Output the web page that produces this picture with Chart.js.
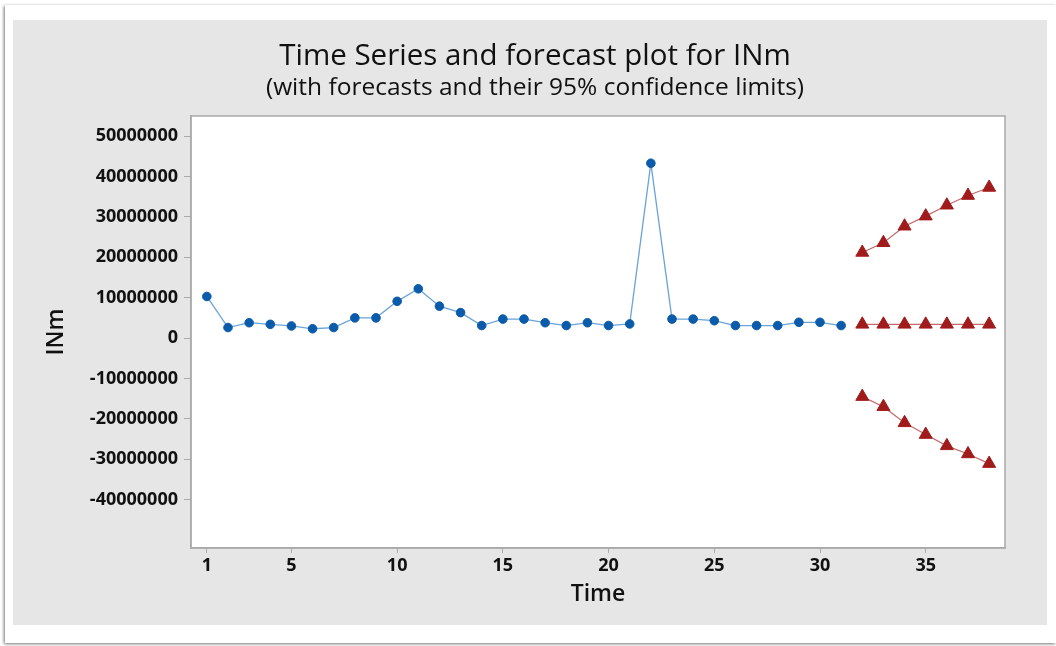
<!DOCTYPE html>
<html>
<head>
<meta charset="utf-8">
<script src="https://cdn.jsdelivr.net/npm/chart.js@4.4.1/dist/chart.umd.min.js"></script>
<style>
  html, body { margin: 0; padding: 0; background: #ffffff; width: 1056px; height: 646px; overflow: hidden; }
  #frame { position: absolute; left: 5px; top: 5px; width: 1051px; height: 638px; background: #ffffff;
           box-shadow: -1px 1px 3px rgba(0, 0, 0, 0.55); }
  #panel { position: absolute; left: 13px; top: 20px; width: 1034px; height: 605px; background: #e6e6e6; }
  canvas { display: block; }
</style>
</head>
<body>
<div id="frame"></div>
<div id="panel"><canvas id="chart" width="1034" height="605"></canvas></div>
<script>
// Observed series
const timeIndex = [1, 2, 3, 4, 5, 6, 7, 8, 9, 10, 11, 12, 13, 14, 15, 16, 17, 18, 19, 20,
                   21, 22, 23, 24, 25, 26, 27, 28, 29, 30, 31];
const inmValues = [10300000, 2600000, 3800000, 3400000, 3000000, 2300000, 2600000, 5000000,
                   5000000, 9100000, 12200000, 7900000, 6300000, 3100000, 4700000, 4700000,
                   3800000, 3100000, 3800000, 3100000, 3500000, 43300000, 4700000, 4700000,
                   4300000, 3100000, 3100000, 3100000, 3900000, 3900000, 3100000];

// Forecasts and 95% limits
const forecastTime = [32, 33, 34, 35, 36, 37, 38];
const forecastValues = [3400000, 3400000, 3400000, 3400000, 3400000, 3400000, 3400000];
const upperLimits = [21200000, 23600000, 27700000, 30200000, 32900000, 35300000, 37300000];
const lowerLimits = [-14500000, -17000000, -21000000, -23900000, -26700000, -28700000, -31100000];

// Axis ticks
const xTicks = [1, 5, 10, 15, 20, 25, 30, 35];
const yTicks = [-40000000, -30000000, -20000000, -10000000, 0, 10000000, 20000000,
                30000000, 40000000, 50000000];

const titleText = 'Time Series and forecast plot for INm';
const subtitleText = '(with forecasts and their 95% confidence limits)';

const FONT = '"Open Sans", "Noto Sans", sans-serif';
const TEXT = '#111111';
const FRAME = '#a9a9a9';

const pairs = (xs, ys) => xs.map((x, i) => ({ x: x, y: ys[i] }));

const forecastStyle = {
  borderColor: '#c36a6a',
  borderWidth: 1.2,
  backgroundColor: '#a01b1b',
  pointBackgroundColor: '#a01b1b',
  pointBorderColor: '#a01b1b',
  pointBorderWidth: 1,
  pointStyle: 'triangle',
  pointRadius: 7.5,
  tension: 0
};

// White plot area with a thin frame, plus the two-line heading
const plotFrame = {
  id: 'plotFrame',
  beforeDatasetsDraw(chart) {
    const { ctx, chartArea: a } = chart;
    ctx.save();
    ctx.strokeStyle = FRAME;
    ctx.lineWidth = 1.5;
    ctx.strokeRect(a.left, a.top, a.right - a.left, a.bottom - a.top);
    ctx.restore();
  },
  beforeDraw(chart) {
    const { ctx, chartArea: a } = chart;
    ctx.save();
    ctx.fillStyle = '#ffffff';
    ctx.fillRect(a.left, a.top, a.right - a.left, a.bottom - a.top);
    ctx.restore();
  },
  afterDraw(chart) {
    const ctx = chart.ctx;
    ctx.save();
    ctx.fillStyle = TEXT;
    ctx.textAlign = 'center';
    ctx.textBaseline = 'middle';
    ctx.font = '500 29.5px ' + FONT;
    ctx.fillText(titleText, 522, 37);
    ctx.font = '500 24.5px ' + FONT;
    ctx.fillText(subtitleText, 522, 68);
    ctx.restore();
  }
};

new Chart(document.getElementById('chart'), {
  type: 'line',
  data: {
    datasets: [
      {
        label: 'INm',
        data: pairs(timeIndex, inmValues),
        borderColor: '#6aa3d8',
        borderWidth: 1.3,
        pointBackgroundColor: '#0b5bab',
        pointBorderColor: '#0b5bab',
        pointRadius: 4.3,
        pointBorderWidth: 1,
        tension: 0
      },
      Object.assign({ label: 'Upper', data: pairs(forecastTime, upperLimits) }, forecastStyle),
      Object.assign({ label: 'Forecast', data: pairs(forecastTime, forecastValues) }, forecastStyle),
      Object.assign({ label: 'Lower', data: pairs(forecastTime, lowerLimits) }, forecastStyle)
    ]
  },
  options: {
    responsive: false,
    animation: false,
    devicePixelRatio: 1,
    layout: { padding: { top: 96, right: 42, bottom: 0, left: 0 } },
    plugins: {
      legend: { display: false },
      tooltip: { enabled: false },
      title: { display: false }
    },
    scales: {
      x: {
        type: 'linear',
        min: 0.25,
        max: 38.75,
        afterBuildTicks: s => { s.ticks = xTicks.map(v => ({ value: v })); },
        afterFit: s => { s.height = 77; },
        ticks: {
          autoSkip: false,
          maxRotation: 0,
          padding: 2,
          color: TEXT,
          font: { family: FONT, size: 18, weight: 'bold' },
          callback: v => String(v)
        },
        grid: { drawOnChartArea: false, drawTicks: true, tickLength: 5, color: FRAME },
        border: { display: true, color: FRAME, width: 1.5 },
        title: {
          display: true,
          text: 'Time',
          color: TEXT,
          font: { family: FONT, size: 23, weight: '600' },
          padding: { top: 0, bottom: 17 }
        }
      },
      y: {
        type: 'linear',
        min: -52000000,
        max: 55000000,
        afterBuildTicks: s => { s.ticks = yTicks.map(v => ({ value: v })); },
        afterFit: s => { s.width = 178; },
        ticks: {
          autoSkip: false,
          padding: 6,
          color: TEXT,
          font: { family: FONT, size: 18, weight: 'bold' },
          callback: v => String(v)
        },
        grid: { drawOnChartArea: false, drawTicks: true, tickLength: 7, color: FRAME },
        border: { display: true, color: FRAME, width: 1.5 },
        title: {
          display: true,
          text: 'INm',
          color: TEXT,
          font: { family: FONT, size: 23, weight: '600' },
          padding: { top: 30, bottom: 0 }
        }
      }
    }
  },
  plugins: [plotFrame]
});
</script>
</body>
</html>
